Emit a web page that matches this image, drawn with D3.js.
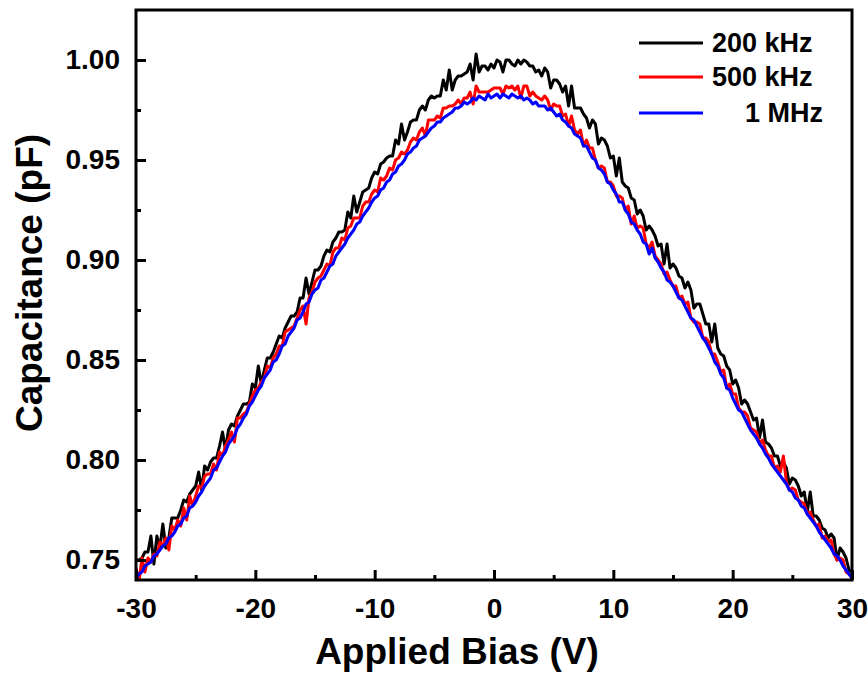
<html>
<head>
<meta charset="utf-8">
<script src="https://d3js.org/d3.v7.min.js"></script>
<style>
    body { margin: 0; background: #fff; }
    svg text { font-family: Arial, "Liberation Sans", sans-serif; font-weight: bold; fill: #000; }
    .axis .domain { stroke: none; }
    .axis line { stroke: #000; stroke-width: 3; }
</style>
</head>
<body>
<svg id="cv_svg" width="868" height="675"></svg>
<script>
// capacitance in fF, bias swept -30 V .. 30 V in 0.25 V steps
const cap200kHz = [
    750, 750, 751, 754, 754, 762, 748, 762, 756, 768, 756, 761, 771, 771, 771, 775,
    780, 779, 783, 785, 787, 794, 785, 797, 795, 799, 801, 801, 807, 814, 805, 815,
    818, 817, 822, 825, 828, 828, 829, 838, 836, 847, 838, 845, 851, 851, 854, 858,
    862, 861, 866, 869, 872, 872, 874, 881, 881, 891, 883, 889, 895, 895, 897, 902,
    905, 904, 909, 911, 914, 914, 915, 924, 921, 932, 924, 929, 934, 935, 936, 941,
    944, 943, 948, 949, 951, 952, 952, 960, 958, 968, 960, 964, 969, 970, 970, 975,
    977, 975, 980, 982, 981, 982, 982, 990, 985, 995, 985, 990, 992, 992, 993, 994,
    998, 990, 1003, 994, 997, 997, 995, 998, 996, 1000, 999, 994, 1000, 1000, 998, 997,
    1000, 998, 1000, 999, 997, 997, 994, 995, 992, 996, 994, 986, 990, 990, 988, 984,
    987, 977, 987, 976, 976, 976, 973, 971, 966, 970, 968, 958, 961, 960, 957, 951,
    952, 942, 951, 939, 937, 936, 931, 930, 923, 925, 922, 915, 917, 915, 912, 907,
    908, 898, 908, 896, 898, 896, 892, 891, 886, 889, 885, 876, 878, 878, 873, 868,
    868, 859, 868, 856, 853, 852, 847, 845, 838, 840, 836, 828, 830, 828, 824, 820,
    821, 811, 820, 809, 808, 806, 802, 802, 797, 799, 796, 788, 791, 790, 787, 782,
    784, 774, 784, 772, 772, 770, 766, 765, 761, 763, 761, 750, 756, 754, 751, 745,
    744
];
const cap500kHz = [
    746, 739, 751, 744, 751, 749, 753, 752, 759, 757, 761, 755, 767, 765, 770, 767,
    776, 770, 782, 777, 782, 787, 786, 792, 793, 793, 798, 795, 804, 802, 807, 810,
    814, 809, 821, 821, 823, 824, 828, 832, 835, 836, 839, 841, 847, 846, 851, 853,
    857, 857, 864, 865, 866, 867, 871, 875, 877, 868, 881, 884, 889, 891, 892, 895,
    898, 897, 904, 906, 906, 911, 910, 916, 917, 921, 921, 921, 927, 929, 929, 933,
    935, 934, 941, 940, 942, 946, 945, 950, 951, 954, 953, 955, 959, 961, 960, 964,
    966, 962, 970, 970, 970, 972, 971, 976, 976, 977, 977, 978, 980, 978, 981, 981,
    984, 978, 987, 984, 984, 984, 984, 985, 986, 986, 986, 983, 987, 986, 987, 985,
    987, 981, 987, 987, 982, 984, 982, 981, 980, 982, 980, 975, 978, 977, 977, 972,
    973, 967, 972, 965, 963, 965, 957, 960, 956, 956, 950, 946, 947, 946, 939, 939,
    937, 932, 932, 931, 925, 927, 918, 922, 916, 917, 916, 908, 906, 909, 902, 900,
    898, 893, 894, 890, 887, 887, 881, 882, 878, 879, 871, 869, 869, 868, 861, 861,
    859, 853, 853, 849, 844, 845, 836, 838, 833, 833, 826, 824, 824, 822, 816, 815,
    814, 808, 810, 805, 802, 802, 796, 797, 794, 802, 789, 785, 786, 785, 780, 779,
    778, 773, 774, 770, 767, 768, 761, 762, 759, 760, 753, 750, 751, 750, 744, 743,
    741
];
const cap1MHz = [
    741, 743, 744, 747, 748, 749, 752, 753, 755, 757, 758, 761, 762, 764, 767, 768,
    771, 772, 776, 777, 779, 782, 784, 787, 789, 791, 795, 796, 799, 802, 804, 808,
    810, 812, 816, 818, 821, 823, 827, 829, 832, 835, 837, 841, 843, 845, 849, 850,
    853, 857, 858, 862, 864, 866, 870, 871, 874, 878, 879, 883, 885, 886, 890, 891,
    894, 897, 898, 902, 904, 906, 908, 911, 913, 915, 918, 919, 922, 924, 926, 929,
    931, 932, 935, 936, 939, 940, 943, 944, 947, 948, 950, 953, 954, 956, 957, 960,
    961, 962, 964, 966, 967, 969, 969, 971, 972, 973, 974, 976, 976, 977, 979, 978,
    979, 981, 980, 982, 981, 980, 983, 981, 982, 983, 981, 983, 982, 981, 983, 982,
    981, 982, 980, 981, 980, 978, 979, 977, 977, 977, 975, 976, 974, 972, 973, 970,
    969, 967, 966, 963, 962, 961, 957, 957, 954, 951, 950, 946, 945, 943, 939, 938,
    935, 933, 929, 929, 925, 923, 919, 918, 915, 913, 909, 908, 903, 906, 901, 899,
    896, 894, 890, 889, 887, 884, 881, 880, 877, 874, 871, 870, 867, 864, 861, 859,
    856, 853, 849, 847, 843, 841, 836, 835, 831, 828, 825, 824, 821, 818, 815, 813,
    811, 808, 806, 803, 801, 798, 796, 794, 792, 790, 788, 785, 784, 781, 780, 777,
    776, 773, 771, 769, 767, 764, 762, 760, 758, 756, 753, 752, 750, 747, 745, 743,
    741
];
const seriesNames = ["200 kHz", "500 kHz", "1 MHz"];
const seriesColors = ["#000000", "#ff0000", "#0000ff"];
const xTicks = [-30, -20, -10, 0, 10, 20, 30];
const xMinor = [-25, -15, -5, 5, 15, 25];
const yTicks = [0.75, 0.80, 0.85, 0.90, 0.95, 1.00];
const yMinor = [0.775, 0.825, 0.875, 0.925, 0.975];

const bias = d3.range(cap1MHz.length).map(i => -30 + i * 0.25);
const allSeries = [cap200kHz, cap500kHz, cap1MHz];

const svg = d3.select("#cv_svg");
const margins = { "top": 10, "right": 16, "bottom": 95, "left": 136 };
const chartWidth = 868 - margins.left - margins.right;
const chartHeight = 675 - margins.top - margins.bottom;

const xScale = d3.scaleLinear().domain([-30, 30]).range([0, chartWidth]);
const yScale = d3.scaleLinear().domain([0.74, 1.025]).range([chartHeight, 0]);

let chart = svg.append("g")
    .attr("transform", "translate(" + margins.left + "," + margins.top + ")");

chart.append("clipPath").attr("id", "plotclip")
    .append("rect").attr("width", chartWidth).attr("height", chartHeight);

let line = d3.line()
    .x((d, i) => xScale(bias[i]))
    .y(d => yScale(d / 1000));

allSeries.forEach((s, k) => {
    chart.append("path")
        .datum(s)
        .attr("clip-path", "url(#plotclip)")
        .attr("fill", "none")
        .attr("stroke", seriesColors[k])
        .attr("stroke-width", 3)
        .attr("stroke-linejoin", "round")
        .attr("d", line);
});

// axes, ticks pointing in
let bottomAxis = d3.axisBottom(xScale).tickValues(xTicks).tickSize(-10).tickPadding(18)
    .tickFormat(d => String(d));
chart.append("g").attr("class", "x axis")
    .attr("transform", "translate(0," + chartHeight + ")")
    .call(bottomAxis)
    .selectAll("text").style("font-size", "28px");

chart.append("g").attr("class", "x axis")
    .attr("transform", "translate(0," + chartHeight + ")")
    .call(d3.axisBottom(xScale).tickValues(xMinor).tickSize(-5).tickFormat(""));

let leftAxis = d3.axisLeft(yScale).tickValues(yTicks).tickSize(-10).tickPadding(16)
    .tickFormat(d3.format(".2f"));
chart.append("g").attr("class", "y axis")
    .call(leftAxis)
    .selectAll("text").style("font-size", "28px");

chart.append("g").attr("class", "y axis")
    .call(d3.axisLeft(yScale).tickValues(yMinor).tickSize(-5).tickFormat(""));

chart.append("rect")
    .attr("width", chartWidth).attr("height", chartHeight)
    .attr("fill", "none").attr("stroke", "#000").attr("stroke-width", 3);

// axis titles
svg.append("text")
    .attr("x", 457).attr("y", 664)
    .attr("text-anchor", "middle")
    .style("font-size", "37px")
    .text("Applied Bias (V)");

svg.append("text")
    .attr("transform", "translate(42,283) rotate(-90)")
    .attr("text-anchor", "middle")
    .style("font-size", "37px")
    .text("Capacitance (pF)");

// legend
const legendY = [43, 77, 113];
const legendTextX = [712, 712, 745];
seriesNames.forEach((name, k) => {
    svg.append("line")
        .attr("x1", 639).attr("x2", 703)
        .attr("y1", legendY[k]).attr("y2", legendY[k])
        .attr("stroke", seriesColors[k]).attr("stroke-width", 3);
    svg.append("text")
        .attr("x", legendTextX[k]).attr("y", legendY[k] + 9)
        .style("font-size", "27px")
        .text(name);
});
</script>
</body>
</html>
